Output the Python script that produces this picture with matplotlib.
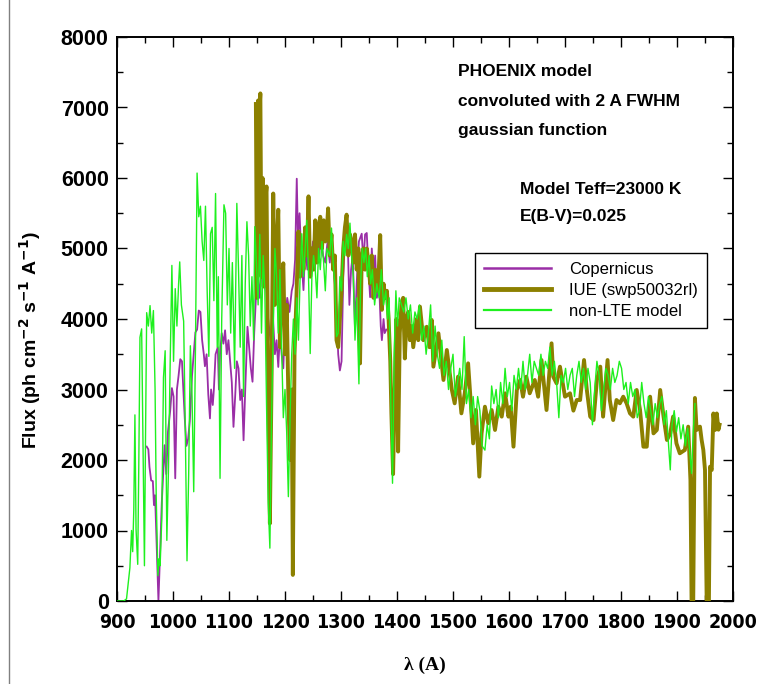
import matplotlib
matplotlib.use("Agg")
import matplotlib.pyplot as plt
from matplotlib.lines import Line2D
from matplotlib.ticker import MultipleLocator

# ---------------- data ----------------
model_wl = [900, 912, 917, 923, 926, 928, 930, 932, 934, 937, 939, 941, 944, 946, 949, 951, 953, 956, 959, 962,
            965, 968, 970, 973, 975, 977, 980, 983, 986, 989, 992, 995, 998, 1001, 1004, 1007, 1010, 1012, 1015, 1019,
            1022, 1025, 1028, 1031, 1034, 1037, 1040, 1043, 1046, 1049, 1052, 1055, 1058, 1061, 1064, 1067, 1070, 1073, 1076, 1079,
            1081, 1084, 1087, 1091, 1094, 1097, 1100, 1103, 1106, 1110, 1114, 1117, 1120, 1123, 1126, 1129, 1132, 1135, 1138, 1141,
            1144, 1146, 1149, 1152, 1155, 1158, 1161, 1164, 1167, 1170, 1173, 1176, 1179, 1182, 1185, 1188, 1191, 1194, 1197, 1200,
            1203, 1206, 1209, 1212, 1215, 1218, 1221, 1224, 1227, 1230, 1233, 1236, 1239, 1242, 1245, 1248, 1251, 1254, 1257, 1260,
            1263, 1266, 1269, 1272, 1275, 1280, 1283, 1286, 1289, 1292, 1295, 1298, 1301, 1304, 1307, 1310, 1313, 1316, 1319, 1322,
            1325, 1328, 1332, 1335, 1338, 1341, 1344, 1347, 1350, 1353, 1356, 1360, 1364, 1368, 1372, 1376, 1380, 1383, 1386, 1389,
            1392, 1395, 1398, 1401, 1404, 1408, 1412, 1416, 1420, 1424, 1428, 1432, 1436, 1440, 1444, 1448, 1452, 1456, 1460, 1464,
            1468, 1472, 1476, 1480, 1484, 1488, 1492, 1496, 1500, 1504, 1508, 1512, 1516, 1520, 1524, 1528, 1532, 1536, 1540, 1544,
            1548, 1552, 1557, 1561, 1565, 1569, 1573, 1577, 1581, 1585, 1589, 1593, 1597, 1601, 1605, 1609, 1613, 1617, 1621, 1625,
            1629, 1633, 1637, 1641, 1645, 1649, 1653, 1657, 1661, 1665, 1669, 1673, 1677, 1681, 1685, 1689, 1693, 1697, 1701, 1705,
            1709, 1713, 1717, 1721, 1725, 1729, 1733, 1737, 1741, 1745, 1749, 1753, 1757, 1761, 1765, 1769, 1773, 1777, 1781, 1785,
            1789, 1793, 1797, 1801, 1805, 1809, 1813, 1817, 1821, 1825, 1829, 1833, 1837, 1841, 1845, 1849, 1853, 1857, 1861, 1865,
            1869, 1873, 1877, 1881, 1885, 1888, 1891, 1895, 1899, 1903, 1907, 1911, 1915, 1919, 1923, 1926, 1929, 1932]
model_flux = [0, 0, 30, 470, 1000, 700, 1300, 2640, 1020, 520, 2000, 3740, 3860, 2500, 500, 2400, 4090, 3900, 4190, 3800,
              4120, 3000, 1500, 360, 600, 500, 1170, 3170, 3550, 860, 1900, 3400, 4760, 3400, 4430, 3900, 4500, 4810, 4200, 3970,
              2400, 570, 1800, 3620, 2900, 1550, 3500, 6070, 5450, 5600, 5100, 4830, 5600, 4400, 3470, 5210, 5300, 4260, 5780, 3600,
              4600, 1740, 4000, 5620, 5500, 4200, 5000, 3800, 4800, 3300, 5640, 4700, 3600, 4900, 2900, 4500, 5380, 4900, 3900, 4600,
              3700, 5310, 4800, 4200, 5200, 3800, 4900, 4400, 2800, 1400, 750, 2600, 3900, 5000, 4600, 3800, 4700, 3600, 2600, 3000,
              2400, 1480, 2600, 3500, 4000, 3500, 4300, 3700, 4600, 5210, 4600, 5000, 5400, 4600, 3510, 4600, 4900, 4700, 4300, 5000,
              4700, 5100, 4800, 4400, 5000, 4900, 5290, 4800, 4500, 3750, 3800, 4600, 4400, 5100, 4900, 5200, 5000, 5360, 4900, 4600,
              3700, 4300, 3080, 4500, 5000, 4800, 5000, 4600, 4900, 4500, 4700, 4200, 4500, 4300, 4700, 4200, 4400, 4000, 4300, 2800,
              1670, 3500, 4400, 3900, 4300, 4200, 4100, 4300, 4000, 4200, 3800, 4100, 4000, 4200, 3700, 3900, 3500, 3800, 4200, 3400,
              3900, 3500, 3300, 3700, 3200, 3400, 3000, 3300, 3500, 2900, 3100, 3300, 3000, 3750, 2800, 3000, 2600, 2900, 2500, 2900,
              2700, 2200, 2140, 2500, 2300, 3050, 2800, 3000, 2600, 3100, 2800, 3300, 2900, 3100, 2700, 3200, 3000, 3300, 3000, 3400,
              3000, 3200, 3500, 3100, 3400, 3300, 3200, 3500, 3200, 3400, 3300, 3600, 3200, 3400, 3100, 2600, 3200, 3100, 3300, 3000,
              3200, 3300, 2900, 3200, 3400, 3100, 3300, 3000, 3300, 3100, 2500, 3000, 3400, 3200, 2700, 3000, 3300, 3200, 3000, 3300,
              3100, 3200, 3400, 3300, 3000, 3100, 2800, 3100, 2900, 3000, 2600, 2700, 3100, 2800, 2600, 2900, 2700, 2500, 2800, 2600,
              2800, 2900, 2500, 2700, 2200, 1860, 2500, 2700, 2400, 2600, 2300, 2500, 2200, 2450, 2100, 1810, 2400, 2800]

iue_wl = [1148, 1150, 1152, 1154, 1156, 1158, 1160, 1162, 1164, 1167, 1170, 1173, 1176, 1179, 1182, 1185, 1188, 1191, 1194, 1197,
          1200, 1203, 1206, 1209, 1212, 1214, 1217, 1220, 1224, 1227, 1230, 1233, 1236, 1239, 1242, 1245, 1248, 1251, 1254, 1257,
          1260, 1263, 1266, 1269, 1272, 1275, 1277, 1280, 1283, 1286, 1289, 1292, 1295, 1298, 1301, 1304, 1307, 1310, 1313, 1316,
          1319, 1322, 1325, 1328, 1331, 1334, 1337, 1340, 1343, 1346, 1349, 1352, 1355, 1358, 1361, 1364, 1367, 1370, 1373, 1376,
          1379, 1382, 1385, 1388, 1390, 1393, 1396, 1399, 1402, 1405, 1408, 1411, 1414, 1417, 1420, 1423, 1426, 1429, 1432, 1435,
          1438, 1441, 1447, 1453, 1458, 1462, 1465, 1474, 1483, 1489, 1498, 1503, 1509, 1515, 1521, 1527, 1533, 1536, 1541, 1547,
          1551, 1557, 1563, 1569, 1575, 1581, 1587, 1593, 1599, 1603, 1608, 1614, 1620, 1625, 1631, 1637, 1646, 1652, 1658, 1667,
          1676, 1679, 1685, 1691, 1700, 1709, 1715, 1721, 1727, 1734, 1739, 1745, 1751, 1757, 1763, 1768, 1776, 1780, 1786, 1792,
          1798, 1804, 1810, 1816, 1822, 1828, 1834, 1840, 1846, 1852, 1858, 1864, 1870, 1876, 1882, 1888, 1893, 1899, 1905, 1914,
          1920, 1924, 1926, 1929, 1932, 1935, 1941, 1944, 1947, 1950, 1953, 1957, 1959, 1962, 1965, 1968, 1971, 1974, 1976]
iue_flux = [7050, 4300, 7100, 6900, 7200, 4600, 6000, 4460, 5600, 5880, 3100, 1100, 3140, 5780, 4200, 5000, 5550, 3600, 4500, 4790,
            3500, 4200, 2900, 2000, 3000, 370, 3500, 4200, 5240, 4600, 5000, 4700, 5300, 4900, 5740, 4600, 5000, 4700, 5400, 4800,
            5300, 5450, 5000, 5400, 5100, 5300, 5570, 4900, 5200, 4700, 4900, 3700, 3600, 4000, 4410, 5000, 5300, 5480, 4900, 5200,
            5100, 4800, 5200, 4700, 5000, 3370, 4900, 5000, 4700, 5000, 4800, 4500, 4900, 4300, 4700, 4400, 4600, 5190, 4130, 4500,
            4300, 4400, 4000, 3400, 2660, 1800, 3000, 4000, 2120, 3800, 4220, 4300, 3440, 4000, 4100, 3700, 3900, 3600, 3800, 4000,
            3700, 4175, 3700, 3890, 3600, 3986, 3324, 3797, 3135, 3560, 2993, 2804, 3182, 2662, 2946, 3371, 2662, 2236, 2709, 1764,
            2378, 2756, 2520, 2709, 2426, 2756, 2615, 2946, 2615, 2756, 2189, 2993, 3135, 2898, 3182, 2946, 3135, 2898, 3418, 2709,
            3655, 3182, 3087, 3324, 2898, 2946, 2700, 2851, 2851, 3418, 2993, 2615, 2567, 3135, 3324, 2615, 3418, 2851, 2567, 2851,
            2804, 2898, 2804, 2662, 2615, 2993, 2709, 2189, 2189, 2898, 2378, 2426, 2993, 2615, 2284, 2378, 2615, 2236, 2095, 2142,
            2473, 1716, 0, 0, 2880, 2426, 2473, 2284, 2142, 1858, 0, 0, 1905, 1858, 2660, 2426, 2660, 2430, 2500]

cop_wl = [953, 956, 958, 961, 964, 966, 968, 971, 974, 980, 985, 988, 991, 995, 998, 1001, 1004, 1007, 1010, 1013,
          1016, 1019, 1021, 1024, 1027, 1030, 1034, 1037, 1040, 1043, 1046, 1049, 1052, 1055, 1057, 1060, 1063, 1066, 1068, 1071,
          1073, 1076, 1080, 1082, 1084, 1087, 1090, 1093, 1096, 1099, 1102, 1105, 1108, 1111, 1114, 1117, 1120, 1123, 1126, 1129,
          1133, 1136, 1139, 1142, 1145, 1149, 1152, 1155, 1158, 1162, 1166, 1170, 1174, 1178, 1182, 1185, 1188, 1191, 1194, 1197,
          1200, 1204, 1208, 1212, 1215, 1218, 1221, 1223, 1226, 1229, 1233, 1236, 1240, 1243, 1246, 1250, 1253, 1256, 1260, 1264,
          1268, 1272, 1276, 1280, 1283, 1287, 1291, 1295, 1298, 1301, 1304, 1308, 1312, 1315, 1318, 1321, 1325, 1328, 1332, 1337,
          1340, 1343, 1346, 1349, 1352, 1355, 1358, 1361, 1364, 1368, 1371, 1373, 1376, 1378, 1381]
cop_flux = [2190, 2150, 1900, 1710, 1700, 1360, 1500, 740, 0, 1400, 2210, 1800, 2400, 2700, 3020, 2900, 1740, 3000, 3200, 3430,
            3400, 2900, 2590, 2200, 2300, 2550, 3200, 3500, 3810, 3850, 4120, 4100, 3700, 3500, 3330, 3500, 2930, 2590, 3000, 2780,
            3000, 3500, 3600, 3000, 3500, 3800, 3650, 3840, 3500, 3700, 3400, 3100, 2470, 2900, 3400, 3300, 2850, 3000, 2280, 3000,
            3890, 3600, 3300, 3110, 3800, 4450, 4600, 4300, 4700, 5000, 4500, 4000, 3700, 4100, 3500, 3700, 3320, 3800, 3500, 3300,
            4000, 4300, 4100, 4400, 4500, 4840, 5990, 5200, 5500, 4900, 4410, 5000, 4700, 5200, 4700, 5100, 4700, 5000, 4800, 5200,
            4900, 4800, 5100, 4800, 5110, 4700, 4300, 3500, 3270, 3400, 4600, 5300, 5100, 4200, 4700, 4900, 3850, 4500, 5100, 5210,
            4800, 5200, 5220, 4700, 4310, 5000, 4600, 4900, 4300, 4500, 3900, 3700, 4000, 3800, 3850]

series_labels = ["Copernicus", "IUE (swp50032rl)", "non-LTE model"]
x_ticks = [900, 1000, 1100, 1200, 1300, 1400, 1500, 1600, 1700, 1800, 1900, 2000]
y_ticks = [0, 1000, 2000, 3000, 4000, 5000, 6000, 7000, 8000]

# ---------------- figure ----------------
W, H = 757, 684
fig = plt.figure(figsize=(W / 100, H / 100), dpi=100)
ax = fig.add_axes([117 / W, 1 - 601 / H, (733 - 117) / W, (601 - 37) / H])

c_cop = "#9a2ea6"
c_iue = "#8c8000"
c_mod = "#1ef01e"

ax.plot(cop_wl, cop_flux, color=c_cop, lw=1.3, label=series_labels[0], zorder=2)
ax.plot(iue_wl, iue_flux, color=c_iue, lw=2.8, label=series_labels[1], zorder=3)
ax.plot(model_wl, model_flux, color=c_mod, lw=1.0, label=series_labels[2], zorder=4)

ax.set_xlim(900, 2000)
ax.set_ylim(0, 8000)
ax.set_xticks(x_ticks)
ax.set_yticks(y_ticks)
ax.xaxis.set_minor_locator(MultipleLocator(50))
ax.yaxis.set_minor_locator(MultipleLocator(500))
ax.tick_params(which="both", direction="in", top=True, right=True, width=1)
ax.tick_params(which="major", length=7)
ax.tick_params(which="minor", length=4)
ax.tick_params(axis="y", pad=6)
ax.tick_params(axis="x", pad=9)
for s in ax.spines.values():
    s.set_linewidth(1.4)

for lab in ax.get_yticklabels():
    lab.set_fontfamily(["Liberation Sans", "DejaVu Sans"])
    lab.set_fontweight("bold")
    lab.set_fontsize(15.5)
for lab in ax.get_xticklabels():
    lab.set_fontfamily(["DejaVu Sans"])
    lab.set_fontstretch("condensed")
    lab.set_fontweight("bold")
    lab.set_fontsize(14)

fig.text(30 / W, 1 - 340 / H, r"Flux (ph cm$^{\mathbf{-2}}$ s$^{\mathbf{-1}}$ A$^{\mathbf{-1}}$)",
         rotation=90, ha="center", va="center", fontsize=14, fontweight="bold",
         family=["Liberation Sans", "DejaVu Sans"])
fig.text(425 / W, 1 - 665 / H, "λ (A)", ha="center", va="center", fontsize=14,
         fontweight="bold", family=["Liberation Serif", "DejaVu Serif"])

ann_kw = dict(ha="left", va="center", fontsize=12.5, fontweight="bold",
              family=["Liberation Sans", "DejaVu Sans"])
fig.text(458 / W, 1 - 72 / H, "PHOENIX model", **ann_kw)
fig.text(458 / W, 1 - 102 / H, "convoluted with 2 A FWHM", **ann_kw)
fig.text(458 / W, 1 - 130 / H, "gaussian function", **ann_kw)
fig.text(520 / W, 1 - 189 / H, "Model Teff=23000 K", **ann_kw)
fig.text(520 / W, 1 - 217 / H, "E(B-V)=0.025", **ann_kw)

handles = [Line2D([], [], color=c_cop, lw=1.8),
           Line2D([], [], color=c_iue, lw=3.5),
           Line2D([], [], color=c_mod, lw=1.6)]
leg = ax.legend(handles, series_labels, loc="upper left",
                bbox_to_anchor=((475 - 117) / 616, (601 - 253) / 564),
                borderaxespad=0, frameon=True, fancybox=False, framealpha=1,
                edgecolor="black", handlelength=4.0, handletextpad=1.1,
                labelspacing=0.35, borderpad=0.55, prop={"family": ["Liberation Sans", "DejaVu Sans"], "size": 12})
leg.get_frame().set_linewidth(1.0)

fig.add_artist(Line2D([8.5 / W, 8.5 / W], [0, 1], color="#808080", lw=1.0))

fig.savefig("out.png", dpi=100)
